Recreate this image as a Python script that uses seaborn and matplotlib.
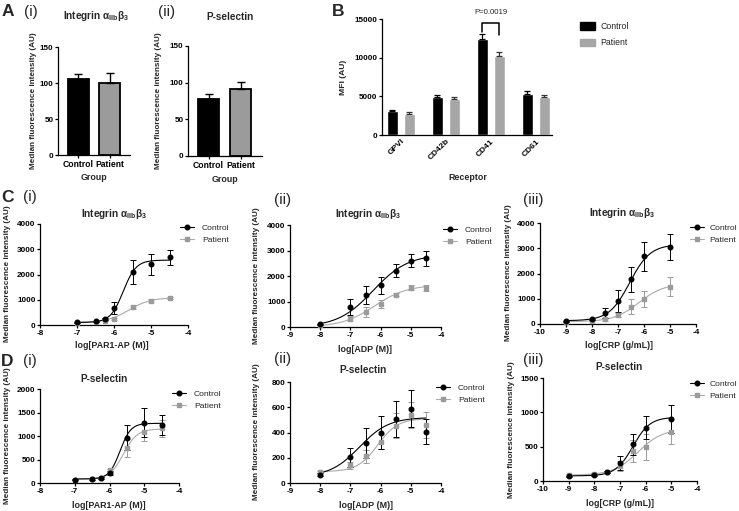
"""
Platelet receptor / activation panels (A-D) rebuilt from the figure.
Saves out.png (739x511).
"""

import numpy as np
import pandas as pd
import matplotlib
matplotlib.use("Agg")
import matplotlib.pyplot as plt
import seaborn as sns
from matplotlib.lines import Line2D
from matplotlib.patches import Patch

sns.set_theme(style="ticks")
plt.rcParams.update({
    "font.family": ["Liberation Sans", "DejaVu Sans"],
    "font.weight": "bold",
    "axes.unicode_minus": False,
    "mathtext.fontset": "custom",
    "mathtext.rm": "Liberation Sans",
    "mathtext.bf": "Liberation Sans:bold",
    "mathtext.it": "Liberation Sans:italic",
    "mathtext.default": "rm",
})

W, H = 739, 511
CTRL = "black"
PAT = "#9b9b9b"
PAT_LINE = "#ababab"
INTEGRIN = r"Integrin $\alpha_{\mathbf{IIb}}\beta_{3}$"
YLAB = "Median fluorescence intensity (AU)"

# ── data ──────────────────────────────────────────────────────────────────────
groups = ["Control", "Patient"]
a1_vals = [106, 100]
a1_err = [7, 14]
a2_vals = [78, 92]
a2_err = [7, 9]

receptors = ["GPVI", "CD42b", "CD41", "CD61"]
b_ctrl = [3060, 4950, 12400, 5340]
b_ctrl_err = [170, 260, 650, 300]
b_pat = [2720, 4650, 10200, 4950]
b_pat_err = [210, 260, 530, 260]
p_value = "P=0.0019"

x_par1 = [-7, -6.5, -6.25, -6, -5.5, -5, -4.5]
x_adp = [-8, -7, -6.5, -6, -5.5, -5, -4.5]
x_crp = [-9, -8, -7.5, -7, -6.5, -6, -5]

# C: integrin aIIbb3
ci_ctrl = [100, 150, 230, 680, 2100, 2400, 2680]
ci_ctrl_err = [30, 20, 30, 240, 480, 420, 310]
ci_pat = [90, 130, 170, 250, 700, 960, 1070]
ci_pat_err = [20, 20, 30, 40, 80, 60, 50]
cii_ctrl = [100, 790, 1250, 1630, 2210, 2600, 2700]
cii_ctrl_err = [20, 310, 350, 330, 265, 260, 295]
cii_pat = [90, 330, 590, 905, 1270, 1545, 1540]
cii_pat_err = [20, 110, 200, 160, 70, 95, 120]
ciii_ctrl = [118, 184, 421, 908, 1763, 2684, 3053]
ciii_ctrl_err = [20, 20, 195, 450, 495, 575, 525]
ciii_pat = [92, 120, 184, 355, 684, 974, 1474]
ciii_pat_err = [20, 20, 60, 90, 290, 320, 370]

# D: P-selectin
di_ctrl = [71, 85, 107, 214, 968, 1281, 1231]
di_ctrl_err = [15, 15, 15, 40, 256, 310, 215]
di_pat = [71, 85, 107, 270, 747, 1089, 1160]
di_pat_err = [15, 15, 15, 30, 195, 190, 185]
dii_ctrl = [66, 202, 315, 399, 509, 590, 407]
dii_ctrl_err = [10, 72, 120, 133, 142, 147, 100]
dii_pat = [87, 139, 210, 328, 454, 538, 459]
dii_pat_err = [10, 30, 50, 60, 100, 105, 105]
diii_ctrl = [68, 88, 132, 264, 533, 777, 904]
diii_ctrl_err = [10, 10, 15, 105, 155, 170, 210]
diii_pat = [93, 108, 137, 220, 440, 498, 718]
diii_pat_err = [10, 10, 15, 70, 160, 185, 185]

# 4-parameter logistic fits: bottom, top, logEC50, hill
ci_ctrl_fit = (100, 2570, -5.75, 2.5)
ci_pat_fit = (100, 1080, -5.6, 1.5)
cii_ctrl_fit = (0, 2850, -6.25, 0.75)
cii_pat_fit = (0, 1650, -6.2, 0.8)
ciii_ctrl_fit = (130, 3150, -6.55, 1.1)
ciii_pat_fit = (90, 1600, -6.2, 0.9)
di_ctrl_fit = (85, 1270, -5.7, 2.8)
di_pat_fit = (85, 1150, -5.6, 2.2)
dii_ctrl_fit = (50, 520, -6.7, 0.9)
dii_pat_fit = (90, 510, -6.1, 1.3)
diii_ctrl_fit = (75, 930, -6.5, 1.3)
diii_pat_fit = (85, 760, -6.3, 0.9)


fig = plt.figure(figsize=(W / 100, H / 100), dpi=100)


def add_ax(x0, y0, x1, y1):
    return fig.add_axes([x0 / W, 1 - y1 / H, (x1 - x0) / W, (y1 - y0) / H])


def txt(xp, yp, s, **kw):
    kw.setdefault("ha", "center")
    kw.setdefault("va", "center")
    return fig.text(xp / W, 1 - yp / H, s, **kw)


def style(ax):
    sns.despine(ax=ax)
    for side in ("left", "bottom"):
        ax.spines[side].set_linewidth(0.9)
        ax.spines[side].set_color("black")
    ax.tick_params(direction="out", length=2.3, width=0.9, pad=1,
                   labelsize=5.9, colors="black")
    ax.set_xlabel("")
    ax.set_ylabel("")
    ax.grid(False)


def four_pl(x, bottom, top, logec50, hill):
    return bottom + (top - bottom) / (1 + 10 ** ((logec50 - x) * hill))


# ── A: group bars ─────────────────────────────────────────────────────────────

def group_bars(ax, vals, err, xlim):
    df = pd.DataFrame({"group": groups, "value": vals})
    sns.barplot(data=df, x="group", y="value", hue="group",
                palette=[CTRL, PAT], width=0.68, edgecolor="black",
                linewidth=1.3, legend=False, ax=ax)
    ax.errorbar(range(len(vals)), vals, yerr=[[0] * len(err), err], fmt="none",
                ecolor="black", elinewidth=1, capsize=3, capthick=1)
    ax.set_xlim(*xlim)
    ax.set_ylim(0, 150)
    ax.set_yticks([0, 50, 100, 150])
    style(ax)
    ax.tick_params(axis="x", labelsize=6.2)


ax = add_ax(58, 47, 130, 155)
group_bars(ax, a1_vals, a1_err, (-0.66, 1.66))
ax = add_ax(188, 46, 262, 156)
group_bars(ax, a2_vals, a2_err, (-0.64, 1.67))

txt(96, 16, INTEGRIN, fontsize=7.2)
txt(230, 17, "P-selectin", fontsize=7.2)
txt(94, 177, "Group", fontsize=6.4)
txt(225, 179, "Group", fontsize=6.4)
txt(37, 101, YLAB, rotation=90, ha="right", fontsize=5.9)
txt(162, 101, YLAB, rotation=90, ha="right", fontsize=5.9)

# ── B: receptor bars ──────────────────────────────────────────────────────────

ax = add_ax(382, 19, 552, 135)
df_b = pd.DataFrame({
    "receptor": receptors * 2,
    "mfi": b_ctrl + b_pat,
    "group": ["Control"] * len(receptors) + ["Patient"] * len(receptors),
})
sns.barplot(data=df_b, x="receptor", y="mfi", hue="group",
            palette=[CTRL, "#a6a6a6"], width=0.756, gap=0.35,
            legend=False, ax=ax)
off = 0.756 / 4
pos = np.arange(len(receptors))
ax.errorbar(pos - off, b_ctrl, yerr=[[0] * 4, b_ctrl_err], fmt="none",
            ecolor="black", elinewidth=0.9, capsize=2.2, capthick=0.9)
ax.errorbar(pos + off, b_pat, yerr=[[0] * 4, b_pat_err], fmt="none",
            ecolor="#333333", elinewidth=0.9, capsize=2.2, capthick=0.9)
# significance bracket over CD41
i41 = receptors.index("CD41")
ax.plot([i41 - off, i41 - off, i41 + off, i41 + off],
        [13300, 14500, 14500, 12900], color="black", lw=1.1)
ax.text(i41, 15800, p_value, ha="center", va="center", fontsize=5.6,
        fontweight="normal")
ax.set_xlim(-0.42, 3.36)
ax.set_ylim(0, 15000)
ax.set_yticks([0, 5000, 10000, 15000])
style(ax)
ax.tick_params(axis="x", length=0, pad=2, labelsize=6)
for lab in ax.get_xticklabels():
    lab.set_rotation(45)
    lab.set_ha("right")
    lab.set_va("top")
    lab.set_rotation_mode("anchor")
ax.legend([Patch(color=CTRL), Patch(color="#a6a6a6")], groups,
          loc="upper left", bbox_to_anchor=(580 / W, 1 - 22 / H),
          bbox_transform=fig.transFigure, frameon=False,
          prop={"size": 6.3, "weight": "normal"}, handlelength=1.7,
          handleheight=1.0, handletextpad=0.6, labelspacing=0.85,
          borderpad=0, borderaxespad=0)
txt(468, 177, "Receptor", fontsize=6.4)
txt(347, 77, "MFI (AU)", rotation=90, ha="right", fontsize=6.1)

# ── C / D: concentration-response curves ─────────────────────────────────────

def dose_panel(box, x, ctrl, ctrl_err, pat, pat_err, ctrl_fit, pat_fit,
               xlim, ymax, ystep, legend_at, textpad=0.9):
    ax = add_ax(*box)
    xs = np.linspace(x[0], x[-1], 200)
    series = [
        (pat, pat_err, pat_fit, PAT, PAT_LINE, "s", 3.0),
        (ctrl, ctrl_err, ctrl_fit, CTRL, CTRL, "o", 3.3),
    ]
    for vals, err, fit, mcol, lcol, mk, ms in series:
        sns.lineplot(x=xs, y=four_pl(xs, *fit), color=lcol, lw=0.8, ax=ax)
        ax.errorbar(x, vals, yerr=err, fmt=mk, color=mcol, ms=ms,
                    elinewidth=0.7, capsize=2.2, capthick=0.7,
                    clip_on=False, zorder=3)
    ax.set_xlim(*xlim)
    ax.set_ylim(0, ymax)
    ax.set_xticks(range(xlim[0], xlim[1] + 1))
    ax.set_yticks(range(0, ymax + 1, ystep))
    style(ax)
    handles = [
        Line2D([], [], color=CTRL, marker="o", ms=3.3, lw=0.8),
        Line2D([], [], color=PAT_LINE, marker="s", ms=3.0, lw=0.8,
               mfc=PAT, mec=PAT),
    ]
    hx, hy = legend_at
    ax.legend(handles, groups, loc="upper left",
              bbox_to_anchor=(hx / W, 1 - (hy - 5) / H),
              bbox_transform=fig.transFigure, frameon=False,
              prop={"size": 6.1, "weight": "normal"}, handlelength=1.7,
              handletextpad=textpad, labelspacing=0.45, borderpad=0,
              borderaxespad=0)
    return ax


dose_panel((40, 224, 188, 325), x_par1, ci_ctrl, ci_ctrl_err, ci_pat,
           ci_pat_err, ci_ctrl_fit, ci_pat_fit, (-8, -4), 4000, 1000, (180, 229))
dose_panel((290, 225, 441, 327), x_adp, cii_ctrl, cii_ctrl_err, cii_pat,
           cii_pat_err, cii_ctrl_fit, cii_pat_fit, (-9, -4), 4000, 1000, (443, 231))
dose_panel((540, 223, 696, 324), x_crp, ciii_ctrl, ciii_ctrl_err, ciii_pat,
           ciii_pat_err, ciii_ctrl_fit, ciii_pat_fit, (-10, -4), 4000, 1000,
           (690, 229), textpad=0.6)
dose_panel((40, 389, 179, 483), x_par1, di_ctrl, di_ctrl_err, di_pat,
           di_pat_err, di_ctrl_fit, di_pat_fit, (-8, -4), 2000, 500, (172, 395))
dose_panel((290, 382, 441, 483), x_adp, dii_ctrl, dii_ctrl_err, dii_pat,
           dii_pat_err, dii_ctrl_fit, dii_pat_fit, (-9, -4), 800, 200, (436, 389))
dose_panel((543, 378, 697, 481), x_crp, diii_ctrl, diii_ctrl_err, diii_pat,
           diii_pat_err, diii_ctrl_fit, diii_pat_fit, (-10, -4), 1500, 500,
           (690, 385), textpad=0.6)

for xp, yp in [(114, 214), (368, 214), (622, 213)]:
    txt(xp, yp, INTEGRIN, fontsize=7.2)
for xp, yp in [(104, 379), (363, 370), (619, 367)]:
    txt(xp, yp, "P-selectin", fontsize=7.2)

for xp, yp, s in [(112, 345, "log[PAR1-AP (M)]"), (365, 349, "log[ADP (M)]"),
                  (619, 345, "log[CRP (g/mL)]"), (109, 505, "log[PAR1-AP (M)]"),
                  (366, 505, "log[ADP (M)]"), (620, 503, "log[CRP (g/mL)]")]:
    txt(xp, yp, s, fontsize=6.4)

for xp, yp in [(11, 274), (260, 276), (512, 273), (11, 436), (260, 432), (515, 430)]:
    txt(xp, yp, YLAB, rotation=90, ha="right", fontsize=5.9)

# ── panel letters ─────────────────────────────────────────────────────────────
for xp, yp, s in [(8, 12, "A"), (338, 11, "B"), (7, 197, "C"), (7, 361, "D")]:
    txt(xp, yp, s, fontsize=12.5, fontweight="bold")
for xp, yp, s in [(31, 12, "(i)"), (167, 12, "(ii)"), (30, 197, "(i)"),
                  (283, 200, "(ii)"), (533, 200, "(iii)"), (30, 361, "(i)"),
                  (283, 359, "(ii)"), (533, 360, "(iii)")]:
    txt(xp, yp, s, fontsize=11, fontweight="normal")

fig.savefig("out.png", dpi=100)
